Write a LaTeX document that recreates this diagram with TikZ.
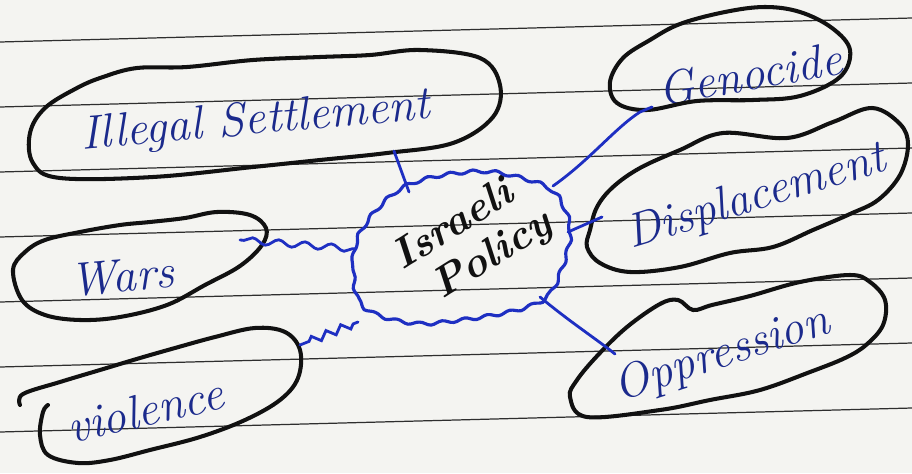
\documentclass[tikz,border=0pt]{standalone}
\usetikzlibrary{decorations.pathmorphing}
\definecolor{paper}{HTML}{F4F4F1}
\definecolor{rulegray}{HTML}{2E2E2E}
\definecolor{ink}{HTML}{111111}
\definecolor{pen}{HTML}{1E2FC2}
\definecolor{bluetext}{HTML}{1B2A8C}
\begin{document}
\begin{tikzpicture}[x=0.02cm,y=-0.02cm,
  ruled/.style={line width=0.7pt, draw=rulegray},
  blob/.style={line width=2.3pt, draw=ink, line join=round, line cap=round},
  hub/.style={line width=1.8pt, draw=pen, line join=round, decorate,
    decoration={snake, amplitude=0.9pt, segment length=13pt}},
  conn/.style={line width=1.6pt, draw=pen, line cap=round},
  wavy/.style={conn, decorate, decoration={snake, amplitude=1.8pt, segment length=15pt, pre length=2pt, post length=2pt}},
  zig/.style={conn, decorate, decoration={zigzag, amplitude=2.2pt, segment length=9pt, pre length=3pt, post length=2pt}},
  lbl/.style={text=bluetext, font=\itshape\fontsize{27}{30}\selectfont, inner sep=0pt},
  ctrtext/.style={text=ink, font=\bfseries\itshape\fontsize{24}{26}\selectfont, inner sep=0pt, align=center}]
\fill[paper] (0,0) rectangle (912,473);
\useasboundingbox (0,0) rectangle (912,473);
% ruled lines of the paper
\foreach \yl in {42,107,172,237,302,367,432}
  \draw[ruled] (0,\yl) -- (912,\yl-24);

% labels
\node[lbl, rotate=5]  (is)   at (256,122) {Illegal Settlement};
\node[lbl, rotate=10] (gen)  at (750,74)  {Genocide};
\node[lbl, rotate=17] (dis)  at (756,198) {Displacement};
\node[lbl, rotate=18] (opp)  at (722,355) {Oppression};
\node[lbl, rotate=5]  (wars) at (122,276) {Wars};
\node[lbl, rotate=13] (vio)  at (145,410) {violence};
\node[ctrtext, rotate=32] (ctr) at (466,246) {Israeli\\\hspace*{20pt}Policy};

% outlines
\draw[blob] plot[smooth cycle, tension=0.6] coordinates {
  (77,88) (45,108) (30,133) (33,163) (60,178) (153,177) (253,167) (320,160)
  (387,153) (453,143) (493,117) (500,85) (480,58) (420,50) (370,55) (320,57)
  (253,60) (187,67) (137,68) (103,77)};
\draw[blob] plot[smooth cycle, tension=0.6] coordinates {
  (610,82) (617,103) (647,110) (697,101) (753,100) (800,96) (840,77) (850,50)
  (832,28) (800,12) (765,7) (725,12) (680,24) (650,40) (623,58)};
\draw[blob] plot[smooth cycle, tension=0.6] coordinates {
  (590,230) (587,247) (600,263) (630,272) (680,267) (730,253) (773,247)
  (813,230) (850,214) (878,200) (900,175) (908,145) (900,124) (872,108)
  (833,122) (787,138) (723,133) (680,150) (640,168) (613,187) (597,207)};
\draw[blob] plot[smooth cycle, tension=0.6] coordinates {
  (570,397) (587,417) (660,410) (710,400) (760,390) (810,372) (845,358)
  (866,345) (883,325) (885,300) (870,282) (850,275) (800,282) (750,296)
  (712,305) (693,310) (678,300) (660,304) (627,327) (598,355) (577,380)};
\draw[blob] plot[smooth cycle, tension=0.6] coordinates {
  (13,270) (22,300) (45,315) (80,320) (120,317) (167,305) (205,285)
  (240,266) (262,245) (266,228) (250,215) (217,212) (185,218) (150,222)
  (120,225) (80,232) (45,240) (25,252)};
\draw[blob] plot[smooth, tension=0.6] coordinates {
  (20,405) (23,394) (60,382) (100,370) (140,358) (175,348) (215,337)
  (255,328) (285,332) (300,350) (298,378) (280,400) (245,420) (200,437)
  (150,450) (110,460) (78,463) (48,455) (40,435) (43,412) (48,405)};

% central hub
\draw[hub] plot[smooth cycle, tension=0.6] coordinates {
  (355,240) (353,270) (360,298) (385,312) (420,318) (455,315) (490,310)
  (525,302) (548,290) (562,262) (570,228) (563,200) (548,182) (520,172)
  (490,166) (460,167) (430,172) (402,182) (380,200) (364,220)};

% connector end points
\coordinate (h-is)  at (409,192);
\coordinate (e-is)  at (394,151);
\coordinate (h-gen) at (553,186);
\coordinate (e-gen) at (640,112);
\coordinate (k-gen) at (652,107);
\coordinate (h-dis) at (568,232);
\coordinate (e-dis) at (602,217);
\coordinate (h-opp) at (540,297);
\coordinate (e-opp) at (615,354);
\coordinate (h-war) at (356,249);
\coordinate (e-war) at (240,240);
\coordinate (h-vio) at (358,322);
\coordinate (e-vio) at (300,345);

% connectors
\draw[conn] (h-is) -- (e-is);
\draw[conn] (h-gen) .. controls (590,160) and (615,128) .. (e-gen) -- (k-gen);
\draw[conn] (h-dis) -- (e-dis);
\draw[conn] (h-opp) .. controls (570,322) and (595,338) .. (e-opp);
\draw[wavy] (h-war) -- (e-war);
\draw[zig] (h-vio) -- (e-vio);
\end{tikzpicture}
\end{document}
